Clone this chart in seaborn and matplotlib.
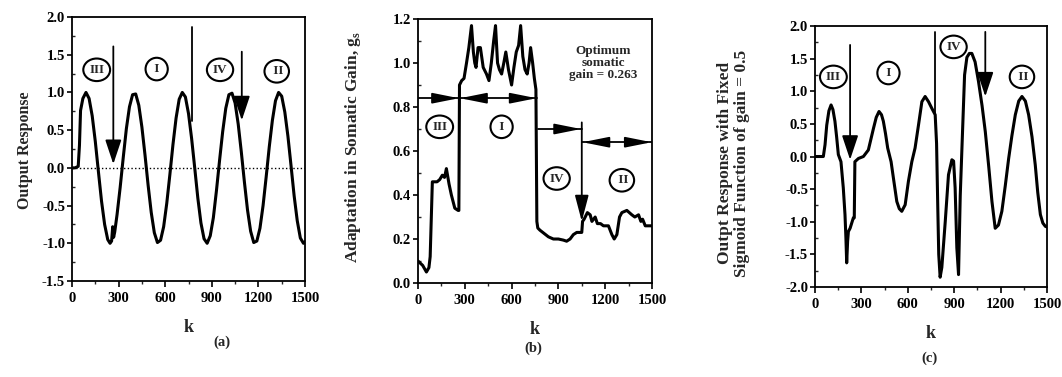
import matplotlib
matplotlib.use("Agg")
import matplotlib.pyplot as plt
import matplotlib.ticker as mticker
import seaborn as sns

# ---- data ----
# (a) output response, adaptive gain
ka = [0, 20, 40, 48, 55, 70, 90, 110, 130, 150,
      170, 190, 210, 230, 245, 255, 262, 268, 275, 290,
      310, 330, 350, 370, 390, 410, 430, 450, 470, 490,
      510, 530, 550, 570, 590, 610, 630, 650, 670, 690,
      710, 730, 750, 770, 790, 810, 830, 850, 870, 890,
      910, 930, 950, 970, 990, 1010, 1030, 1050, 1070, 1090,
      1110, 1130, 1150, 1170, 1190, 1210, 1230, 1250, 1270, 1290,
      1310, 1330, 1350, 1370, 1390, 1410, 1430, 1450, 1470, 1490, 1500]
ya = [0, 0, 0.02, 0.3, 0.76, 0.92, 1.0, 0.92, 0.69, 0.35,
      -0.05, -0.44, -0.75, -0.95, -1.0, -0.97, -0.78, -0.92, -0.85, -0.62,
      -0.26, 0.14, 0.52, 0.81, 0.97, 0.98, 0.83, 0.54, 0.17, -0.23,
      -0.59, -0.86, -0.99, -0.96, -0.78, -0.47, -0.09, 0.31, 0.66, 0.91,
      1.0, 0.94, 0.72, 0.39, 0.0, -0.40, -0.73, -0.94, -1.0, -0.90,
      -0.66, -0.30, 0.10, 0.48, 0.79, 0.97, 0.99, 0.86, 0.58, 0.21,
      -0.19, -0.56, -0.84, -0.99, -0.97, -0.80, -0.50, -0.12, 0.28, 0.63,
      0.89, 1.0, 0.95, 0.74, 0.42, 0.03, -0.37, -0.70, -0.93, -1.0, -0.98]

# (b) somatic gain adaptation
kb = [0, 30, 54, 70, 78, 92, 122, 139, 156, 170,
      182, 199, 214, 236, 257, 262, 266, 280, 295, 311,
      326, 343, 355, 364, 372, 385, 400, 418, 439, 455,
      470, 485, 497, 510, 522, 536, 550, 563, 580, 600,
      615, 630, 645, 658, 672, 686, 700, 712, 722, 735,
      746, 756, 762, 768, 782, 800, 836, 868, 900, 932,
      953, 975, 996, 1018, 1050, 1055, 1065, 1086, 1104, 1115,
      1136, 1150, 1170, 1189, 1221, 1243, 1258, 1275, 1292, 1307,
      1339, 1371, 1390, 1414, 1429, 1440, 1457, 1500]
yb = [0.10, 0.08, 0.05, 0.07, 0.12, 0.46, 0.46, 0.47, 0.49, 0.48,
      0.52, 0.45, 0.40, 0.34, 0.33, 0.33, 0.90, 0.92, 0.93, 1.00,
      1.07, 1.17, 1.05, 1.00, 0.98, 1.07, 1.07, 0.98, 0.95, 0.92,
      1.0, 1.1, 1.17, 1.0, 0.97, 0.95, 1.0, 1.05, 0.97, 0.90,
      0.98, 1.05, 1.08, 1.17, 1.03, 0.97, 0.95, 1.0, 1.07, 1.0,
      0.93, 0.88, 0.28, 0.25, 0.24, 0.23, 0.21, 0.20, 0.20, 0.195,
      0.19, 0.20, 0.22, 0.23, 0.23, 0.28, 0.29, 0.32, 0.31, 0.28,
      0.30, 0.27, 0.27, 0.26, 0.26, 0.22, 0.20, 0.22, 0.30, 0.32,
      0.33, 0.31, 0.30, 0.31, 0.28, 0.29, 0.26, 0.26]

# (c) output response, fixed sigmoid gain = 0.5
kc = [0, 54, 65, 76, 90, 104, 116, 129, 140, 151,
      168, 183, 194, 200, 205, 211, 216, 227, 248, 254,
      258, 281, 313, 345, 378, 396, 414, 430, 442, 456,
      470, 492, 507, 529, 545, 561, 583, 604, 626, 647,
      669, 691, 712, 734, 755, 777, 786, 794, 800, 809,
      820, 842, 863, 885, 896, 906, 917, 928, 939, 950,
      967, 982, 998, 1014, 1035, 1057, 1080, 1101, 1123, 1144,
      1165, 1186, 1208, 1230, 1252, 1273, 1295, 1317, 1338, 1360,
      1381, 1403, 1424, 1440, 1457, 1473, 1489, 1500]
yc = [0.0, 0.0, 0.18, 0.48, 0.70, 0.79, 0.72, 0.54, 0.30, 0.03,
      -0.08, -0.48, -0.89, -1.25, -1.63, -1.30, -1.15, -1.10, -0.94, -0.94,
      -0.08, -0.03, 0.0, 0.10, 0.43, 0.60, 0.69, 0.64, 0.54, 0.35,
      0.13, -0.08, -0.33, -0.69, -0.80, -0.84, -0.74, -0.38, -0.08, 0.13,
      0.48, 0.84, 0.92, 0.84, 0.74, 0.64, 0.20, -0.80, -1.50, -1.85,
      -1.70, -1.0, -0.28, -0.05, -0.07, -0.48, -1.40, -1.81, -0.60, 0.13,
      1.25, 1.52, 1.58, 1.58, 1.45, 1.15, 0.78, 0.38, -0.15, -0.69,
      -1.10, -1.05, -0.84, -0.45, -0.03, 0.32, 0.64, 0.85, 0.92, 0.85,
      0.64, 0.30, -0.13, -0.55, -0.89, -1.02, -1.07, -1.08]

xticks = [0, 300, 600, 900, 1200, 1500]

sns.set_theme(style="ticks")
plt.rcParams['font.family'] = ['Liberation Serif', 'DejaVu Serif']
plt.rcParams['font.weight'] = 'bold'
plt.rcParams['axes.labelweight'] = 'bold'

fig = plt.figure(figsize=(10.62, 3.77), dpi=100)
ax_a = fig.add_axes([0.0678, 0.2546, 0.2194, 0.7003])
ax_b = fig.add_axes([0.3936, 0.2493, 0.2203, 0.7003])
ax_c = fig.add_axes([0.7674, 0.2387, 0.2185, 0.6923])


def style_axes(ax, ylim, ymajor, yminor):
    ax.set_xlim(0, 1500)
    ax.set_ylim(*ylim)
    ax.set_xticks(xticks)
    ax.xaxis.set_minor_locator(mticker.MultipleLocator(150))
    ax.yaxis.set_major_locator(mticker.MultipleLocator(ymajor))
    ax.yaxis.set_minor_locator(mticker.MultipleLocator(yminor))
    ax.yaxis.set_major_formatter(mticker.FormatStrFormatter('%.1f'))
    for s in ax.spines.values():
        s.set_linewidth(1.3)
        s.set_color('black')
    ax.tick_params(axis='x', which='major', direction='out', length=4, width=1.2,
                   labelsize=10.5, pad=4, colors='black')
    ax.tick_params(axis='x', which='minor', direction='out', length=2.5, width=1)
    ax.tick_params(axis='y', which='major', direction='out', length=3.5, width=1.2,
                   labelsize=10.5, pad=1.5, colors='black')
    ax.tick_params(axis='y', which='minor', direction='in', length=2.5, width=1)
    ax.set_xlabel('k', fontsize=13, labelpad=10)


def label(ax, x, y, txt, fs=9.5):
    ax.text(x, y, txt, ha='center', va='center', fontsize=fs, fontweight='bold',
            bbox=dict(boxstyle='ellipse,pad=0.15', fc='white', ec='black', lw=1.5))


def arrow(ax, x0, y0, x1, y1, hl=15, hw=5, lw=1.3):
    ax.annotate('', xy=(x1, y1), xytext=(x0, y0),
                arrowprops=dict(arrowstyle=f'-|>,head_length={hl},head_width={hw}',
                                mutation_scale=1, lw=lw, color='black',
                                fc='black', shrinkA=0, shrinkB=0))


# ---------- (a) ----------
style_axes(ax_a, (-1.5, 2.0), 0.5, 0.25)
ax_a.axhline(0, color='black', lw=1.0, ls=':')
sns.lineplot(x=ka, y=ya, ax=ax_a, color='black', lw=2.2)
arrow(ax_a, 266, 1.61, 266, 0.05)
ax_a.plot([771, 771], [1.87, 0.62], color='black', lw=1.3)
arrow(ax_a, 1093, 1.54, 1093, 0.63)
label(ax_a, 159, 1.30, 'III')
label(ax_a, 545, 1.31, ' I ')
label(ax_a, 953, 1.30, 'IV')
label(ax_a, 1318, 1.28, ' II')
ax_a.set_ylabel('Output Response', fontsize=11.5)
ax_a.yaxis.set_label_coords(-0.167, 0.496)

# ---------- (b) ----------
style_axes(ax_b, (0.0, 1.2), 0.2, 0.1)
sns.lineplot(x=kb, y=yb, ax=ax_b, color='black', lw=2.2)
ax_b.plot([0, 765], [0.84, 0.84], color='black', lw=1.3)
arrow(ax_b, 140, 0.84, 262, 0.84, hl=16, hw=3.2)
arrow(ax_b, 390, 0.84, 270, 0.84, hl=16, hw=3.2)
arrow(ax_b, 640, 0.84, 760, 0.84, hl=16, hw=3.2)
ax_b.plot([770, 1050], [0.70, 0.70], color='black', lw=1.3)
arrow(ax_b, 930, 0.70, 1045, 0.70, hl=16, hw=3.2)
arrow(ax_b, 1050, 0.73, 1050, 0.28, hl=16, hw=4.2)
ax_b.plot([1050, 1500], [0.64, 0.64], color='black', lw=1.3)
arrow(ax_b, 1170, 0.64, 1055, 0.64, hl=16, hw=3.2)
arrow(ax_b, 1380, 0.64, 1498, 0.64, hl=16, hw=3.2)
label(ax_b, 139, 0.71, 'III')
label(ax_b, 536, 0.71, ' I ')
label(ax_b, 889, 0.475, 'IV')
label(ax_b, 1307, 0.467, ' II')
ax_b.text(1189, 1.0, 'Optimum\nsomatic\ngain = 0.263', ha='center', va='center',
          fontsize=9.5, fontweight='bold', linespacing=1.05)
ax_b.set_ylabel('Adaptation in Somatic Gain, g$_\\mathregular{s}$', fontsize=12.5)
ax_b.yaxis.set_label_coords(-0.235, 0.515)

# ---------- (c) ----------
style_axes(ax_c, (-2.0, 2.0), 0.5, 0.25)
sns.lineplot(x=kc, y=yc, ax=ax_c, color='black', lw=2.2)
arrow(ax_c, 227, 1.71, 227, -0.05)
ax_c.plot([777, 777], [1.91, 0.64], color='black', lw=1.3)
arrow(ax_c, 1101, 1.91, 1101, 0.92)
label(ax_c, 119, 1.22, 'III')
label(ax_c, 475, 1.28, ' I ')
label(ax_c, 896, 1.68, 'IV')
label(ax_c, 1338, 1.22, ' II')
ax_c.set_ylabel('Outpt Response with Fixed\nSigmoid Function of gain = 0.5',
                fontsize=12.5, linespacing=1.05)
ax_c.yaxis.set_label_coords(-0.28, 0.475)

fig.text(222 / 1062, 1 - 342 / 377, '(a)', ha='center', va='center', fontsize=10.5, fontweight='bold')
fig.text(533 / 1062, 1 - 348 / 377, '(b)', ha='center', va='center', fontsize=10.5, fontweight='bold')
fig.text(930 / 1062, 1 - 358 / 377, '(c)', ha='center', va='center', fontsize=10.5, fontweight='bold')

fig.savefig('out.png', dpi=100)
